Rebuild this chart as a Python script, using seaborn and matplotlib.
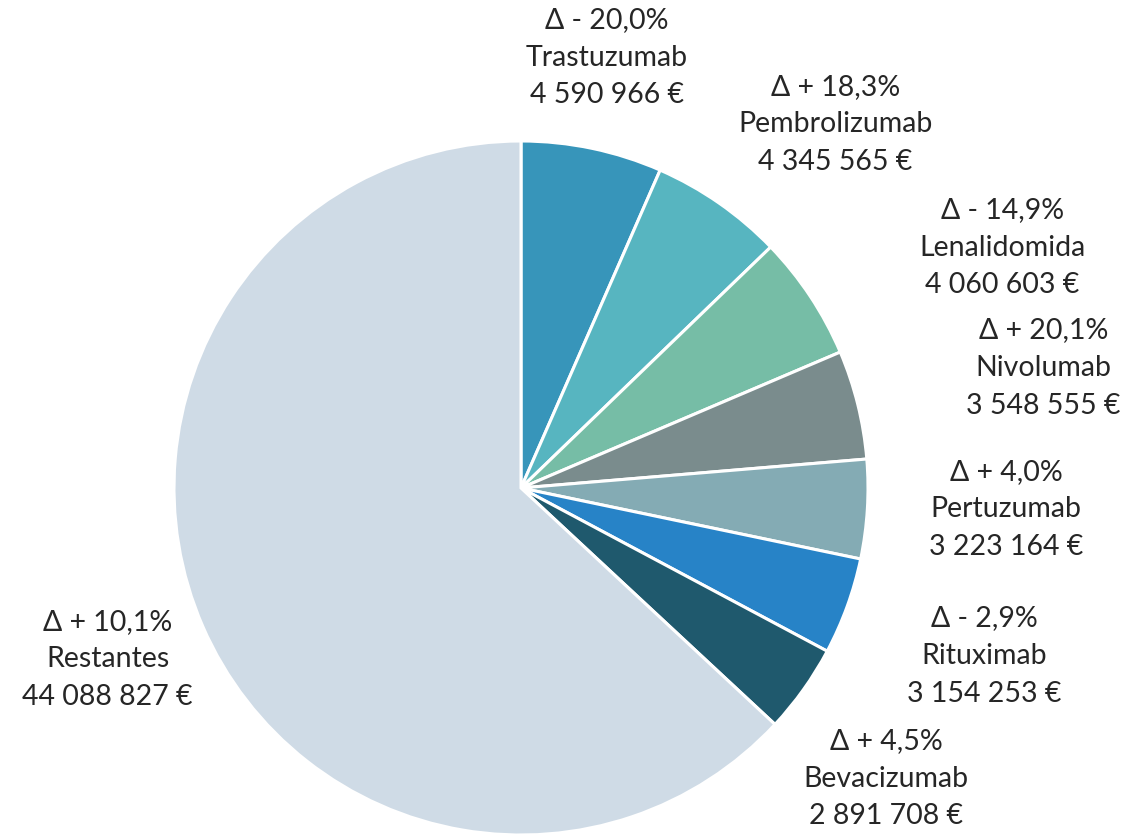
#!/usr/bin/env python3
"""
Pie chart: spending per drug (Δ vs previous year), recreated with seaborn/matplotlib.
"""

import numpy as np
import matplotlib
matplotlib.use("Agg")
import matplotlib.pyplot as plt
import seaborn as sns

# data
drugs = ["Trastuzumab", "Pembrolizumab", "Lenalidomida", "Nivolumab",
         "Pertuzumab", "Rituximab", "Bevacizumab", "Restantes"]
spend = [4590966, 4345565, 4060603, 3548555, 3223164, 3154253, 2891708, 44088827]
delta = ["- 20,0%", "+ 18,3%", "- 14,9%", "+ 20,1%",
         "+ 4,0%", "- 2,9%", "+ 4,5%", "+ 10,1%"]

colors = ["#3795BA", "#57B5C0", "#76BDA6", "#7A8C8D",
          "#84ABB4", "#2783C7", "#1F596D", "#CFDBE6"]
# how far out each label sits (in pie radii), like the hand-placed Excel labels
label_dist = [1.265, 1.385, 1.55, 1.545, 1.40, 1.42, 1.345, 1.29]
label_shift = [-0.5, 6, 7, 1, -1, 0, 3, 1]  # degrees, small nudges

W, H = 1122, 835
CX, CY, R = 521, 488, 347


def fmt_eur(v):
    return f"{v:,}".replace(",", " ") + " €"


def main():
    sns.set_theme(style="white")
    plt.rcParams["font.family"] = ["Lato", "DejaVu Sans"]

    fig = plt.figure(figsize=(W / 100, H / 100), dpi=100)
    ax = fig.add_axes([0, 0, 1, 1])
    ax.pie(spend, colors=colors, startangle=90, counterclock=False,
           wedgeprops=dict(edgecolor="white", linewidth=2.2))
    ax.set_xlim(-CX / R, (W - CX) / R)
    ax.set_ylim(-(H - CY) / R, CY / R)
    ax.set_aspect("equal")
    ax.axis("off")

    total = float(sum(spend))
    ends = np.cumsum(spend) / total * 360
    mids = ends - np.array(spend) / total * 180
    for i, name in enumerate(drugs):
        a = np.deg2rad(mids[i] + label_shift[i])
        x = label_dist[i] * np.sin(a)
        y = label_dist[i] * np.cos(a)
        txt = f"\u0394 {delta[i]}\n{name}\n{fmt_eur(spend[i])}"
        ax.text(x, y, txt, ha="center", va="center", fontsize=20.5,
                color="#262626", linespacing=1.55)

    fig.savefig("out.png", dpi=100, facecolor="white")
    plt.close(fig)


if __name__ == "__main__":
    main()
